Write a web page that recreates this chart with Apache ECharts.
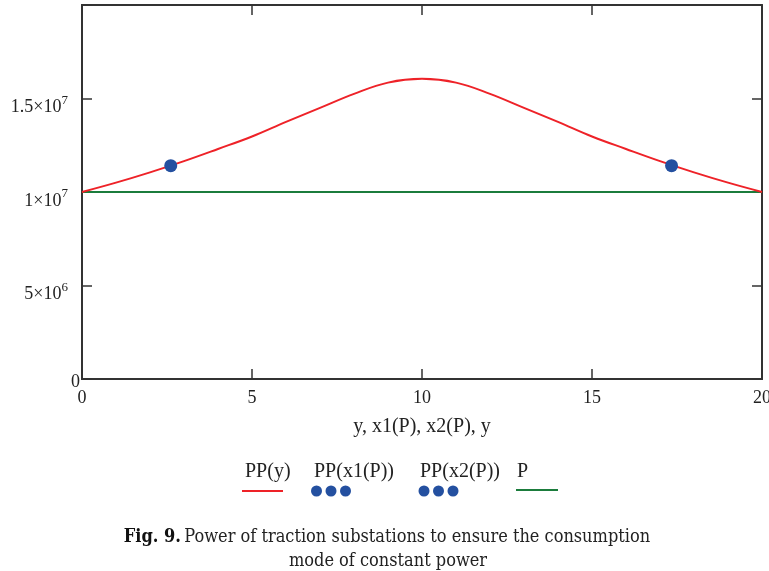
<!DOCTYPE html>
<html>
<head>
<meta charset="utf-8">
<script src="https://cdn.jsdelivr.net/npm/echarts@6/dist/echarts.min.js"></script>
<style>
html,body{margin:0;padding:0;background:#fff;}
#chart{width:769px;height:571px;}
</style>
</head>
<body>
<div id="chart"></div>
<script>
// ---- data ----
const yPositions = [0,1,2,3,4,5,6,7,8,9,10,11,12,13,14,15,16,17,18,19,20];
const ppValues = [10.0e6,10.5e6,11.05e6,11.65e6,12.3e6,12.97e6,13.75e6,14.5e6,15.25e6,15.85e6,16.05e6,
                  15.85e6,15.25e6,14.5e6,13.75e6,12.97e6,12.3e6,11.65e6,11.05e6,10.5e6,10.0e6];
const x1P = [2.61];
const x2P = [17.34];
const ppAtX1 = [11.41e6];
const ppAtX2 = [11.41e6];
const pRange = [0, 20];
const pValue = [10e6, 10e6];
const xTicks = {min: 0, max: 20, interval: 5};
const yTicks = {min: 0, max: 20e6, interval: 5e6};
const yTickLabels = {0: '0', 5000000: ['5×10', '6'], 10000000: ['1×10', '7'], 15000000: ['1.5×10', '7']};

const chart = echarts.init(document.getElementById('chart'), null, {renderer: 'canvas'});
const serif = '"Liberation Serif","Times New Roman",serif';
const capFont = '"DejaVu Serif Condensed","DejaVu Serif",serif';
const axisCol = '#333333';

const zip = (a, b) => a.map((v, i) => [v, b[i]]);

function frame(extra, ticks) {
  return Object.assign({
    axisLine: {show: true, onZero: false, lineStyle: {color: axisCol, width: 2}},
    axisTick: {show: ticks, inside: true, length: 10, lineStyle: {color: axisCol, width: 1.5}},
    splitLine: {show: false}
  }, extra);
}

const option = {
  animation: false,
  backgroundColor: '#ffffff',
  grid: {left: 82, right: 7, top: 5, bottom: 192, containLabel: false, outerBoundsMode: 'none'},
  xAxis: [frame({
    type: 'value', position: 'bottom', min: xTicks.min, max: xTicks.max, interval: xTicks.interval,
    axisLabel: {color: '#222', fontFamily: serif, fontSize: 18, margin: 10},
    name: 'y, x1(P), x2(P), y', nameLocation: 'middle', nameGap: 38,
    nameTextStyle: {color: '#222', fontFamily: serif, fontSize: 20}
  }, false), frame({
    type: 'value', position: 'top', min: xTicks.min, max: xTicks.max, interval: xTicks.interval,
    axisLabel: {show: false}
  }, true), frame({
    type: 'value', position: 'bottom', min: xTicks.min, max: xTicks.max, interval: xTicks.interval,
    axisLabel: {show: false}
  }, true)],
  yAxis: [frame({
    type: 'value', position: 'left', min: yTicks.min, max: yTicks.max, interval: yTicks.interval,
    axisLabel: {
      margin: 2,
      padding: [18, 0, 0, 0],
      formatter: function (v) {
        const t = yTickLabels[v];
        if (t === undefined) return '';
        if (typeof t === 'string') return '{z|' + t + '}';
        return '{b|' + t[0] + '}{s|' + t[1] + '}';
      },
      rich: {
        b: {color: '#222', fontFamily: serif, fontSize: 18},
        s: {color: '#222', fontFamily: serif, fontSize: 13, padding: [0, 12, 14, 0]},
        z: {color: '#222', fontFamily: serif, fontSize: 18, padding: [0, 0, 12, 0]}
      }
    }
  }, false), frame({
    type: 'value', position: 'right', min: yTicks.min, max: yTicks.max, interval: yTicks.interval,
    axisLabel: {show: false}
  }, true), frame({
    type: 'value', position: 'left', min: yTicks.min, max: yTicks.max, interval: yTicks.interval,
    axisLabel: {show: false}
  }, true)],
  series: [{
    name: 'P', type: 'line', data: zip(pRange, pValue), showSymbol: false,
    lineStyle: {color: '#1b7c3c', width: 2}, z: 2
  }, {
    name: 'PP(y)', type: 'line', data: zip(yPositions, ppValues), smooth: 0.4, showSymbol: false,
    lineStyle: {color: '#ee2228', width: 2}, z: 3
  }, {
    name: 'PP(x1(P))', type: 'scatter', data: zip(x1P, ppAtX1), symbolSize: 13,
    itemStyle: {color: '#2450a0', opacity: 1}, z: 4
  }, {
    name: 'PP(x2(P))', type: 'scatter', data: zip(x2P, ppAtX2), symbolSize: 13,
    itemStyle: {color: '#2450a0', opacity: 1}, z: 4
  }],
  graphic: [
    // legend
    {type: 'text', left: 245, top: 462, style: {text: 'PP(y)', font: '20px ' + serif, fill: '#222'}},
    {type: 'line', shape: {x1: 242, y1: 491, x2: 283, y2: 491}, style: {stroke: '#ee2228', lineWidth: 2}},
    {type: 'text', left: 314, top: 462, style: {text: 'PP(x1(P))', font: '20px ' + serif, fill: '#222'}},
    {type: 'circle', shape: {cx: 316.5, cy: 491, r: 5.5}, style: {fill: '#2450a0'}},
    {type: 'circle', shape: {cx: 331, cy: 491, r: 5.5}, style: {fill: '#2450a0'}},
    {type: 'circle', shape: {cx: 345.5, cy: 491, r: 5.5}, style: {fill: '#2450a0'}},
    {type: 'text', left: 420, top: 462, style: {text: 'PP(x2(P))', font: '20px ' + serif, fill: '#222'}},
    {type: 'circle', shape: {cx: 424, cy: 491, r: 5.5}, style: {fill: '#2450a0'}},
    {type: 'circle', shape: {cx: 438.5, cy: 491, r: 5.5}, style: {fill: '#2450a0'}},
    {type: 'circle', shape: {cx: 453, cy: 491, r: 5.5}, style: {fill: '#2450a0'}},
    {type: 'text', left: 517, top: 462, style: {text: 'P', font: '20px ' + serif, fill: '#222'}},
    {type: 'line', shape: {x1: 516, y1: 490, x2: 558, y2: 490}, style: {stroke: '#1b7c3c', lineWidth: 2}},
    // caption
    {type: 'text', x: 387, y: 537, style: {
      text: '{b|Fig. 9.} {n|Power of traction substations to ensure the consumption}',
      align: 'center', verticalAlign: 'middle',
      rich: {
        b: {font: 'bold 18px ' + capFont, fill: '#111'},
        n: {font: '18px ' + capFont, fill: '#222'}
      }
    }},
    {type: 'text', x: 388, y: 561, style: {
      text: 'mode of constant power', align: 'center', verticalAlign: 'middle',
      font: '18px ' + capFont, fill: '#222'
    }}
  ]
};
chart.setOption(option);
</script>
</body>
</html>
